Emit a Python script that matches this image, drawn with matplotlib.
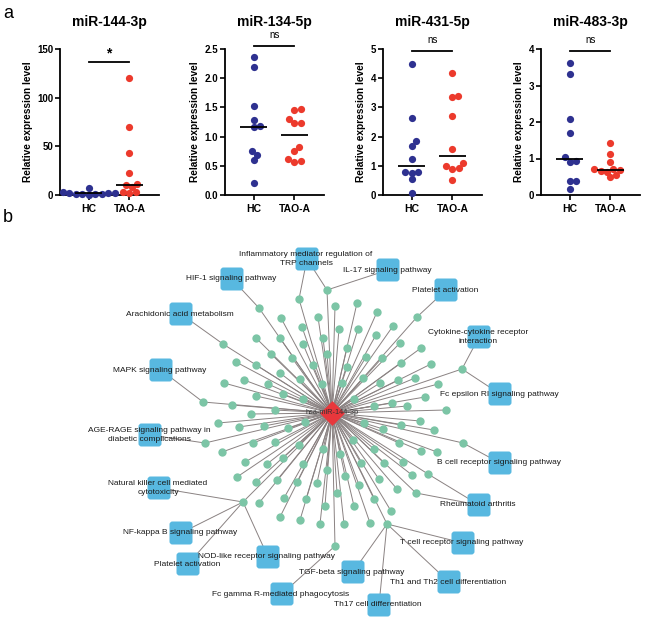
import matplotlib
matplotlib.use('Agg')
import matplotlib.pyplot as plt
import numpy as np
from matplotlib.patches import FancyBboxPatch

plt.rcParams['font.family'] = ['Liberation Sans', 'DejaVu Sans']

# ---------------- panel a data ----------------
groups = ['HC', 'TAO-A']
titles = ['miR-144-3p', 'miR-134-5p', 'miR-431-5p', 'miR-483-3p']
hc_144 = [3, 1.5, 2.5, 0.5, 1, 2, 0.8, 1.2, 1.8, 7]
tao_144 = [120, 70, 43, 23, 10, 11, 8, 3, 2, 3]
hc_134 = [2.37, 2.19, 1.53, 1.29, 1.18, 1.16, 0.76, 0.69, 0.60, 0.20]
tao_134 = [1.47, 1.45, 1.24, 1.23, 1.30, 0.83, 0.76, 0.57, 0.61, 0.59]
hc_431 = [4.49, 2.63, 1.85, 1.68, 1.22, 0.79, 0.79, 0.76, 0.54, 0.08]
tao_431 = [4.17, 3.34, 3.40, 2.69, 1.59, 1.10, 0.94, 0.90, 0.98, 0.51]
hc_483 = [3.62, 3.32, 2.08, 1.69, 1.03, 0.91, 0.94, 0.38, 0.38, 0.16]
tao_483 = [1.42, 1.13, 0.91, 0.70, 0.67, 0.64, 0.69, 0.70, 0.49, 0.55]
hc_sets = [hc_144, hc_134, hc_431, hc_483]
tao_sets = [tao_144, tao_134, tao_431, tao_483]
y_max = [150, 2.5, 5, 4]
y_ticks = [[0, 50, 100, 150], [0.0, 0.5, 1.0, 1.5, 2.0, 2.5],
           [0, 1, 2, 3, 4, 5], [0, 1, 2, 3, 4]]
y_ticklabels = [['0', '50', '100', '150'], ['0.0', '0.5', '1.0', '1.5', '2.0', '2.5'],
                ['0', '1', '2', '3', '4', '5'], ['0', '1', '2', '3', '4']]
sig_text = ['*', 'ns', 'ns', 'ns']
sig_y = [137, 2.55, 4.92, 3.95]

# ---------------- panel b data ----------------
center_label = 'hsa-miR-144-3p'
center_xy = (332, 413)
node_x = [335, 357, 377, 318, 281, 302, 339, 358, 393, 256, 280, 323, 376, 303, 347, 400, 271, 327,
          366, 421, 236, 256, 292, 313, 382, 401, 347, 431, 280, 300, 363, 322, 342, 380, 398, 415,
          438, 224, 244, 268, 283, 256, 303, 354, 374, 392, 407, 425, 446, 232, 275, 251,
          218, 239, 264, 288, 305, 364, 383, 401, 420, 434, 253, 275, 299, 353, 374, 399, 421, 437,
          222, 323, 340, 245, 267, 283, 303, 361, 384, 403, 327, 237, 256, 277, 297, 317, 345, 359,
          379, 397, 412, 337, 259, 284, 306, 325, 354, 374, 391, 280, 300, 320, 344, 370]
node_y = [306, 303, 312, 317, 318, 327, 329, 329, 326, 338, 338, 338, 335, 344, 348, 343, 354, 354,
          357, 348, 362, 365, 358, 365, 358, 363, 367, 364, 373, 379, 378, 384, 383, 383, 380, 378,
          384, 383, 380, 384, 394, 396, 399, 399, 406, 403, 406, 397, 410, 405, 410, 414,
          423, 427, 426, 428, 422, 423, 429, 425, 421, 430, 443, 442, 445, 440, 449, 443, 451, 452,
          452, 449, 454, 462, 464, 458, 464, 463, 463, 462, 470, 477, 482, 480, 482, 483, 476, 485,
          479, 489, 475, 493, 503, 498, 499, 506, 506, 499, 511, 517, 520, 524, 524, 523]
hub_x = [299, 327, 259, 223, 203, 417, 462, 205, 243, 335, 387, 463, 428, 416]
hub_y = [299, 290, 308, 344, 402, 317, 369, 443, 502, 546, 524, 443, 474, 493]
box_labels = ['Inflammatory mediator regulation of\nTRP channels', 'IL-17 signaling pathway',
              'HIF-1 signaling pathway', 'Arachidonic acid metabolism', 'MAPK signaling pathway',
              'Platelet activation', 'Cytokine-cytokine receptor\ninteraction',
              'Fc epsilon RI signaling pathway',
              'AGE-RAGE signaling pathway in\ndiabetic complications',
              'Natural killer cell mediated\ncytotoxicity', 'NF-kappa B signaling pathway',
              'Platelet activation', 'NOD-like receptor signaling pathway',
              'Fc gamma R-mediated phagocytosis', 'TGF-beta signaling pathway',
              'Th17 cell differentiation', 'Th1 and Th2 cell differentiation',
              'T cell receptor signaling pathway', 'B cell receptor signaling pathway',
              'Rheumatoid arthritis']
box_x = [307, 388, 232, 181, 161, 446, 479, 500, 150, 159, 181, 188, 268, 282, 353, 379, 449, 463, 500, 479]
box_y = [259, 270, 279, 314, 370, 290, 337, 394, 435, 488, 533, 564, 557, 594, 572, 605, 582, 543, 463, 505]
hub_box_links = [(0, 0), (1, 0), (1, 1), (2, 2), (3, 3), (4, 4), (5, 5), (6, 6), (6, 7), (7, 8),
                 (8, 9), (8, 10), (8, 11), (8, 12), (9, 13), (10, 14), (10, 15), (10, 16), (10, 17),
                 (11, 18), (12, 19), (13, 19)]

# ---------------- styling ----------------
W, H = 669, 623
fig = plt.figure(figsize=(W / 100, H / 100), dpi=100)
hc_col = '#2E3190'
tao_col = '#EC3A2C'
ax_left_px = [60, 225, 383, 541]
ax_w_px = 99
ax_top_px, ax_bot_px = 49, 195
ax_h_px = ax_bot_px - ax_top_px
x_lo, x_hi = -0.71, 1.73
unit_px = ax_w_px / (x_hi - x_lo)
dot_d = 6.2


def swarm(values, ymax):
    ys = np.asarray(values, float) / ymax * ax_h_px
    offs = np.zeros(len(ys))
    placed = []
    for i in np.argsort(ys):
        found = None
        k = 0
        while found is None:
            cands = [0.0] if k == 0 else [k * 0.5, -k * 0.5]
            for dx in cands:
                if all((dx - px) ** 2 + (ys[i] - py) ** 2 >= dot_d ** 2 for px, py in placed):
                    found = dx
                    break
            k += 1
        placed.append((found, ys[i]))
        offs[i] = found / unit_px
    return offs


for p in range(4):
    ax = fig.add_axes([ax_left_px[p] / W, 1 - ax_bot_px / H, ax_w_px / W, ax_h_px / H])
    for gi, (vals, col) in enumerate([(hc_sets[p], hc_col), (tao_sets[p], tao_col)]):
        offs = swarm(vals, y_max[p])
        ax.scatter(gi + offs, vals, s=27, color=col, linewidths=0, zorder=3, clip_on=False)
        med = np.median(vals)
        ax.plot([gi - 0.33, gi + 0.33], [med, med], color='black', lw=1.3, zorder=4,
                solid_capstyle='butt')
    ax.plot([0, 1], [sig_y[p], sig_y[p]], color='black', lw=1.3, clip_on=False)
    if sig_text[p] == '*':
        ax.text(0.5, sig_y[p] + y_max[p] * 0.01, '*', ha='center', va='bottom',
                fontsize=10, fontweight='bold')
    else:
        ax.text(0.5, sig_y[p] + y_max[p] * 0.04, 'ns', ha='center', va='bottom', fontsize=7)
    ax.set_xlim(x_lo, x_hi)
    ax.set_ylim(0, y_max[p])
    ax.set_yticks(y_ticks[p])
    ax.set_yticklabels(y_ticklabels[p], fontsize=7, fontweight='bold')
    ax.set_xticks([0, 1])
    ax.set_xticklabels(groups, fontsize=7.5, fontweight='bold')
    for s in ['top', 'right']:
        ax.spines[s].set_visible(False)
    for s in ['left', 'bottom']:
        ax.spines[s].set_linewidth(1.3)
    ax.tick_params(axis='both', direction='out', length=3.5, width=1.2, pad=1.5)
    ax.tick_params(axis='x', pad=3)
    ax.set_ylabel('Relative expression level', fontsize=7.3, fontweight='bold', labelpad=3)
    ax.text(0.5, 1 + 27 / ax_h_px, titles[p], transform=ax.transAxes, ha='center', va='center',
            fontsize=10, fontweight='bold')

fig.text(8 / W, 1 - 14 / H, 'a', fontsize=13, ha='center', va='center')
fig.text(8 / W, 1 - 217 / H, 'b', fontsize=13, ha='center', va='center')

# ---------------- network ----------------
net_top = 225
axn = fig.add_axes([0, 0, 1, (H - net_top) / H])
axn.set_xlim(0, W)
axn.set_ylim(H, net_top)
axn.axis('off')
edge_col = '#8A8282'
green = '#7CC5A6'
cx, cy = center_xy
all_x = node_x + hub_x
all_y = node_y + hub_y
for x, y in zip(all_x, all_y):
    axn.plot([cx, x], [cy, y], color=edge_col, lw=0.7, zorder=1)
for hi, bi in hub_box_links:
    axn.plot([hub_x[hi], box_x[bi]], [hub_y[hi], box_y[bi]], color=edge_col, lw=0.7, zorder=1)
axn.scatter(all_x, all_y, s=36, color=green, linewidths=0, zorder=3)
axn.scatter([cx], [cy], marker='D', s=160, color='#E8373C', linewidths=0, zorder=4)
axn.text(cx, cy, center_label, ha='center', va='center', fontsize=5.3, color='#333333', zorder=6)
bs = 23
for lab, x, y in zip(box_labels, box_x, box_y):
    axn.add_patch(FancyBboxPatch((x - bs / 2, y - bs / 2), bs, bs,
                                 boxstyle='round,pad=0,rounding_size=3',
                                 facecolor='#58B8E0', edgecolor='none', zorder=5))
    axn.text(x - 1, y, lab, ha='center', va='center', fontsize=6, color='#1A1A1A',
             linespacing=1.35, zorder=6)

fig.savefig('out.png', dpi=100)
